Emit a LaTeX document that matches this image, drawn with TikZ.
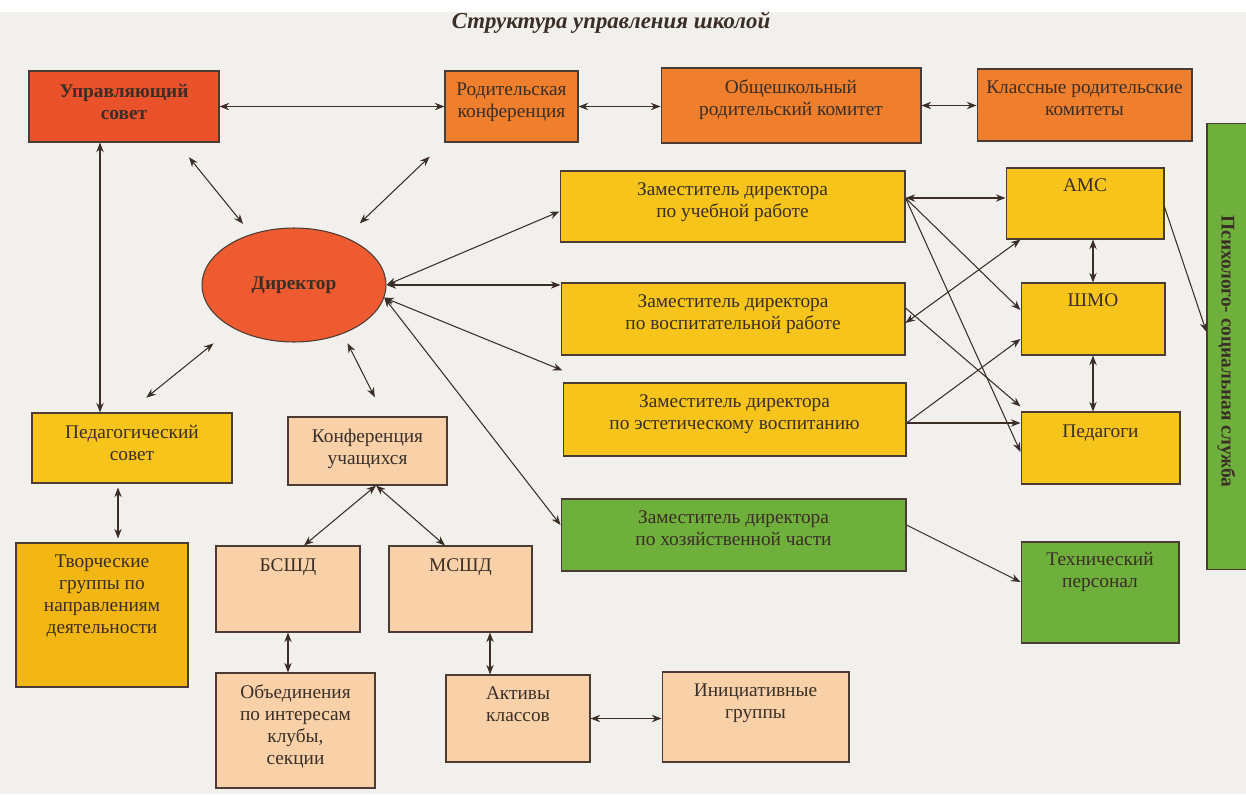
\documentclass[tikz,border=0pt]{standalone}
\usepackage{fontspec}
\setmainfont{Liberation Serif}
\usetikzlibrary{shapes.geometric,arrows.meta}

\definecolor{ink}{HTML}{3A2E27}
\definecolor{boxline}{HTML}{4A3C32}
\definecolor{paper}{HTML}{F1F0EC}
\definecolor{redbox}{HTML}{E9522B}
\definecolor{dirred}{HTML}{EE5B30}
\definecolor{orangebox}{HTML}{EF7F2C}
\definecolor{yellowbox}{HTML}{F6C41B}
\definecolor{goldbox}{HTML}{F2B714}
\definecolor{peachbox}{HTML}{F8D1A8}
\definecolor{greenbox}{HTML}{6FAF3B}

\begin{document}
\begin{tikzpicture}[x=0.02cm, y=-0.02cm,
  >={Stealth[length=5.5pt,width=4.2pt]},
  my box/.style={draw=boxline, line width=0.6pt, rectangle, inner sep=0pt},
  red box/.style={my box, fill=redbox},
  orange box/.style={my box, fill=orangebox},
  yellow box/.style={my box, fill=yellowbox},
  peach box/.style={my box, fill=peachbox},
  green box/.style={my box, fill=greenbox},
  my text/.style={anchor=north, align=center, inner sep=0pt, text=ink,
    font=\fontsize{11}{12.5}\selectfont},
  my arrow/.style={draw=ink, line width=0.6pt},
  ]
  \useasboundingbox (0,0) rectangle (1246,794);
  \fill[white] (0,0) rectangle (1246,12);
  \fill[paper] (0,12) rectangle (1246,794);

  \node[text=ink, font=\fontsize{13}{15}\selectfont\bfseries\itshape] (title) at (611,23) {Структура управления школой};

  % top row
  \node[red box, minimum width=3.8cm, minimum height=1.42cm] (upr) at (124,106.5) {};
  \node[orange box, minimum width=2.66cm, minimum height=1.42cm] (rod) at (511.5,106.5) {};
  \node[orange box, minimum width=5.2cm, minimum height=1.5cm] (obsh) at (791,105.5) {};
  \node[orange box, minimum width=4.3cm, minimum height=1.44cm] (klass) at (1084.5,105) {};
  \node[green box, minimum width=0.9cm, minimum height=8.94cm] (psy) at (1229.5,346.5) {};

  \node[draw=boxline, line width=0.6pt, ellipse, fill=dirred, minimum width=3.68cm,
    minimum height=2.28cm, inner sep=0pt, text=ink,
    font=\fontsize{11}{12.5}\selectfont\bfseries] (dir) at (294,285) {Директор};

  % deputies
  \node[yellow box, minimum width=6.9cm, minimum height=1.42cm] (zuch) at (732.5,206.5) {};
  \node[yellow box, minimum width=6.88cm, minimum height=1.44cm] (zvos) at (733,319) {};
  \node[yellow box, minimum width=6.86cm, minimum height=1.46cm] (zest) at (734.5,419.5) {};
  \node[green box, minimum width=6.9cm, minimum height=1.44cm] (zhoz) at (733.5,535) {};

  \node[yellow box, minimum width=3.16cm, minimum height=1.42cm] (ams) at (1085,203.5) {};
  \node[yellow box, minimum width=2.88cm, minimum height=1.44cm] (shmo) at (1093,319) {};
  \node[yellow box, minimum width=3.18cm, minimum height=1.44cm] (ped) at (1100.5,448) {};
  \node[green box, minimum width=3.16cm, minimum height=2.02cm] (teh) at (1100,592.5) {};

  % left part
  \node[yellow box, minimum width=4.0cm, minimum height=1.4cm] (pedsov) at (132,448) {};
  \node[my box, fill=goldbox, minimum width=3.44cm, minimum height=2.88cm] (tvor) at (102,615) {};
  \node[peach box, minimum width=3.18cm, minimum height=1.36cm] (konf) at (367.5,451) {};
  \node[peach box, minimum width=2.88cm, minimum height=1.72cm] (bsd) at (288,589) {};
  \node[peach box, minimum width=2.86cm, minimum height=1.72cm] (msd) at (460.5,589) {};
  \node[peach box, minimum width=3.18cm, minimum height=2.3cm] (obj) at (295.5,730.5) {};
  \node[peach box, minimum width=2.88cm, minimum height=1.74cm] (akt) at (518,718.5) {};
  \node[peach box, minimum width=3.74cm, minimum height=1.8cm] (init) at (755.5,717) {};

  % texts
  \node[my text, font=\fontsize{11}{12.5}\selectfont\bfseries] at ([yshift=-0.26cm]upr.north) {Управляющий\\совет};
  \node[my text] at ([yshift=-0.24cm]rod.north) {Родительская\\конференция};
  \node[my text] at ([yshift=-0.24cm]obsh.north) {Общешкольный\\родительский комитет};
  \node[my text] at ([yshift=-0.24cm]klass.north) {Классные родительские\\комитеты};
  \node[my text, anchor=center, rotate=-90, font=\fontsize{11}{12.5}\selectfont\bfseries] at ([xshift=-0.06cm,yshift=-0.1cm]psy.center) {Психолого- социальная служба};
  \node[my text] at ([yshift=-0.24cm]zuch.north) {Заместитель директора\\по учебной работе};
  \node[my text] at ([yshift=-0.24cm]zvos.north) {Заместитель директора\\по воспитательной работе};
  \node[my text] at ([yshift=-0.24cm]zest.north) {Заместитель директора\\по эстетическому воспитанию};
  \node[my text] at ([yshift=-0.24cm]zhoz.north) {Заместитель директора\\по хозяйственной части};
  \node[my text] at ([yshift=-0.22cm]ams.north) {АМС};
  \node[my text] at ([yshift=-0.22cm]shmo.north) {ШМО};
  \node[my text] at ([yshift=-0.26cm]ped.north) {Педагоги};
  \node[my text] at ([yshift=-0.2cm]teh.north) {Технический\\персонал};
  \node[my text] at ([yshift=-0.24cm]pedsov.north) {Педагогический\\совет};
  \node[my text] at ([yshift=-0.24cm]tvor.north) {Творческие\\группы по\\направлениям\\деятельности};
  \node[my text] at ([yshift=-0.24cm]konf.north) {Конференция\\учащихся};
  \node[my text] at ([yshift=-0.26cm]bsd.north) {БСШД};
  \node[my text] at ([yshift=-0.26cm]msd.north) {МСШД};
  \node[my text] at ([yshift=-0.24cm]obj.north) {Объединения\\по интересам\\клубы,\\секции};
  \node[my text] at ([yshift=-0.24cm]akt.north) {Активы\\классов};
  \node[my text] at ([yshift=-0.24cm]init.north) {Инициативные\\группы};

  % top row arrows
  \draw[my arrow,<->] (upr.east) -- (rod.west);
  \draw[my arrow,<->] (rod.east) -- (rod.east -| obsh.west);
  \draw[my arrow,<->] (obsh.east) -- (obsh.east -| klass.west);
  \coordinate (v1) at ([xshift=-0.48cm]upr.south);
  \draw[my arrow,<->] (v1) -- (v1 |- pedsov.north);

  % director
  \draw[my arrow,<->, shorten <=0.38cm, shorten >=0.26cm] ([xshift=1.06cm]upr.south) -- (dir.130);
  \draw[my arrow,<->, shorten <=0.41cm, shorten >=0.4cm] (rod.south west) -- (dir.43);
  \draw[my arrow,<->] (dir.east) -- ([yshift=-0.1cm]zuch.west);
  \draw[my arrow,<->] (dir.east) -- (dir.east -| zvos.west);
  \draw[my arrow,<->] (dir.-8) -- ([yshift=0.24cm]zest.north west);
  \draw[my arrow,<->] (dir.-8) -- ([yshift=0.2cm]zhoz.west);
  \draw[my arrow,<->, shorten <=0.49cm, shorten >=0.47cm] (dir.215) -- ([xshift=-0.08cm]pedsov.north);
  \draw[my arrow,<->, shorten <=0.21cm, shorten >=0.43cm] (dir.-45) -- ([xshift=0.34cm]konf.north);

  % deputies and staff
  \coordinate (z1) at ([yshift=0.17cm]zuch.east);
  \draw[my arrow,<->] (z1) -- (z1 -| ams.west);
  \draw[my arrow,->] (z1) -- ([yshift=0.18cm]shmo.west);
  \draw[my arrow,->] (z1) -- ([yshift=-0.08cm]ped.west);
  \draw[my arrow,<->] ([yshift=-0.08cm]zvos.east) -- ([xshift=0.3cm]ams.south west);
  \draw[my arrow,->] ([yshift=0.22cm]zvos.east) -- ([yshift=0.1cm]ped.north west);
  \coordinate (z3) at ([yshift=-0.07cm]zest.east);
  \draw[my arrow,->] (z3) -- ([yshift=-0.4cm]shmo.west);
  \draw[my arrow,->] (z3) -- (z3 -| ped.west);
  \draw[my arrow,<->] (shmo.north) -- (shmo.north |- ams.south);
  \draw[my arrow,<->] (shmo.south) -- (shmo.south |- ped.north);
  \draw[my arrow,->] ([yshift=-0.07cm]ams.east) -- ([yshift=0.29cm]psy.west);
  \draw[my arrow,->] ([yshift=0.2cm]zhoz.east) -- ([yshift=0.21cm]teh.west);

  % pupils
  \coordinate (v2) at ([xshift=-0.28cm]pedsov.south);
  \draw[my arrow,<->, shorten <=0.08cm, shorten >=0.08cm] (v2) -- (v2 |- tvor.north);
  \draw[my arrow,<->] ([xshift=0.17cm]konf.south) -- ([xshift=0.32cm]bsd.north);
  \draw[my arrow,<->] ([xshift=0.17cm]konf.south) -- ([xshift=-0.31cm]msd.north);
  \draw[my arrow,<->] (bsd.south) -- (bsd.south |- obj.north);
  \coordinate (v3) at ([xshift=0.59cm]msd.south);
  \draw[my arrow,<->] (v3) -- (v3 |- akt.north);
  \draw[my arrow,<->] (akt.east) -- (akt.east -| init.west);
\end{tikzpicture}
\end{document}
